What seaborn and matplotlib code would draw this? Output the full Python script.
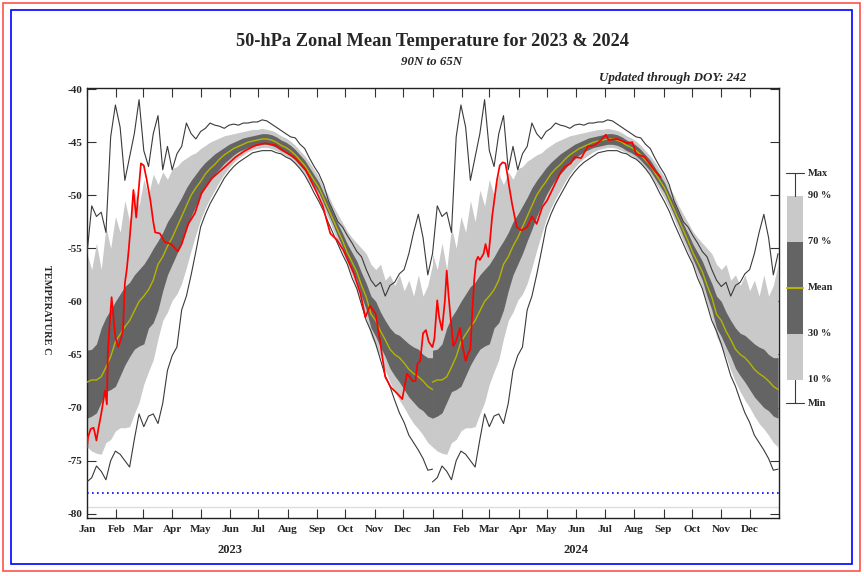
import seaborn as sns
import pandas as pd
import matplotlib.pyplot as plt
import numpy as np
from matplotlib.patches import Rectangle
from matplotlib.lines import Line2D

# climatology, sampled every 5 days of the year
doy = [1, 6, 11, 16, 21, 26, 31, 36, 41, 46, 51, 56, 61, 66, 71, 76, 81, 86, 91, 96,
       101, 106, 111, 116, 121, 126, 131, 136, 141, 146, 151, 156, 161, 166, 171, 176,
       181, 186, 191, 196, 201, 206, 211, 216, 221, 226, 231, 236, 241, 246, 251, 256,
       261, 266, 271, 276, 281, 286, 291, 296, 301, 306, 311, 316, 321, 326, 331, 336,
       341, 346, 351, 356, 361, 366]

clim_max = [-55.5, -51.0, -52.0, -51.6, -53.5, -44.5, -41.5, -43.6, -48.6, -46.4,
            -44.2, -41.0, -45.8, -47.3, -44.2, -42.5, -47.6, -45.4, -47.6, -46.1,
            -45.4, -43.2, -44.2, -44.7, -44.0, -43.7, -43.2, -43.4, -43.5, -43.7,
            -43.4, -43.3, -43.4, -43.2, -43.2, -43.1, -43.1, -42.9, -43.0, -43.3,
            -43.6, -43.9, -44.2, -44.5, -44.6, -45.2, -45.6, -46.5, -47.3, -48.0,
            -49.0, -50.5, -51.5, -52.5, -53.0, -53.8, -54.5, -55.3, -55.8, -57.0,
            -58.0, -58.6, -58.2, -59.5, -58.5, -58.2, -57.4, -57.0, -55.5, -53.5,
            -51.8, -54.0, -57.5, -55.5]
clim_p90 = [-55.5, -57.0, -54.5, -57.0, -53.0, -55.0, -52.0, -53.5, -50.5, -52.5,
            -49.5, -51.0, -48.5, -50.0, -48.0, -49.0, -47.8, -48.5, -47.5, -47.3,
            -46.8, -46.5, -46.2, -46.0, -45.6, -45.3, -45.0, -44.8, -44.6, -44.4,
            -44.3, -44.2, -44.1, -44.0, -43.9, -43.8, -43.8, -43.7, -43.8, -43.9,
            -44.1, -44.4, -44.6, -44.9, -45.3, -45.8, -46.3, -46.9, -47.6, -48.3,
            -49.2, -50.0, -51.0, -51.8, -52.6, -53.4, -54.0, -54.5, -55.0, -55.5,
            -56.5, -57.0, -56.5, -58.0, -57.5, -58.5, -57.5, -59.0, -58.0, -59.5,
            -57.5, -59.5, -58.5, -56.5]
clim_p70 = [-64.6, -64.5, -64.0, -62.5, -61.5, -60.8, -60.0, -59.3, -58.6, -58.2,
            -57.5, -57.0, -56.5, -55.8, -55.0, -54.3, -53.5, -52.5, -51.8, -51.0,
            -50.2, -49.3, -48.6, -48.0, -47.4, -46.9, -46.5, -46.1, -45.8, -45.5,
            -45.2, -45.0, -44.8, -44.6, -44.5, -44.4, -44.3, -44.2, -44.2, -44.3,
            -44.5, -44.8, -45.0, -45.3, -45.7, -46.2, -46.7, -47.4, -48.1, -48.8,
            -49.8, -50.7, -51.7, -52.7, -53.6, -54.6, -55.4, -56.2, -57.3, -58.3,
            -59.5, -60.0, -61.0, -61.8, -62.5, -63.0, -63.2, -63.6, -64.0, -64.3,
            -64.5, -65.0, -65.3, -65.3]
clim_mean = [-67.6, -67.4, -67.4, -67.1, -66.2, -65.2, -63.8, -63.1, -62.4, -61.8,
             -60.9, -60.0, -59.5, -58.9, -58.0, -56.5, -55.8, -54.8, -54.0, -53.0,
             -52.0, -51.0, -50.0, -49.3, -48.7, -48.0, -47.5, -47.1, -46.6, -46.2,
             -45.9, -45.6, -45.4, -45.2, -45.0, -44.9, -44.8, -44.7, -44.7, -44.8,
             -45.0, -45.3, -45.5, -45.8, -46.2, -46.7, -47.2, -47.9, -48.6, -49.3,
             -50.3, -51.3, -52.3, -53.3, -54.3, -55.4, -56.3, -57.2, -58.5, -59.6,
             -61.2, -61.8, -62.8, -63.6, -64.5, -65.0, -65.3, -65.8, -66.4, -66.8,
             -67.1, -67.5, -68.0, -68.3]
clim_p30 = [-71.0, -70.8, -70.5, -69.5, -68.5, -68.3, -68.0, -67.0, -66.0, -65.2,
            -64.5, -64.2, -64.0, -62.5, -62.0, -60.8, -59.0, -57.5, -56.5, -55.5,
            -54.3, -53.2, -52.0, -51.0, -50.0, -49.2, -48.5, -48.0, -47.5, -47.0,
            -46.6, -46.2, -45.9, -45.7, -45.5, -45.4, -45.3, -45.2, -45.2, -45.3,
            -45.5, -45.8, -46.0, -46.3, -46.7, -47.2, -47.7, -48.4, -49.1, -49.8,
            -50.8, -51.8, -52.8, -53.9, -54.9, -56.0, -57.0, -58.0, -59.5, -60.8,
            -62.5, -63.3, -64.3, -65.2, -66.3, -67.0, -67.6, -68.3, -69.0, -69.5,
            -70.0, -70.3, -70.8, -71.0]
clim_p10 = [-73.7, -74.1, -74.3, -74.4, -73.3, -73.0, -72.2, -71.9, -71.9, -71.8,
            -70.6, -69.5, -67.8, -66.6, -65.5, -63.5, -61.8, -61.0, -59.9, -59.3,
            -58.3, -56.8, -55.2, -53.7, -52.3, -51.2, -50.3, -49.5, -48.7, -48.0,
            -47.4, -46.9, -46.5, -46.2, -45.9, -45.7, -45.6, -45.5, -45.5, -45.6,
            -45.8, -46.0, -46.3, -46.6, -47.0, -47.5, -48.0, -48.8, -49.5, -50.3,
            -51.2, -52.2, -53.3, -54.4, -55.4, -56.5, -57.6, -58.8, -60.2, -61.6,
            -63.3, -64.3, -65.2, -66.5, -67.6, -68.5, -69.3, -70.0, -70.8, -71.5,
            -72.0, -72.6, -73.3, -73.7]
clim_min = [-77.0, -76.6, -75.5, -76.0, -76.8, -75.0, -74.1, -74.4, -75.0, -75.6,
            -73.0, -70.6, -71.8, -70.8, -70.6, -71.5, -69.6, -66.5, -65.1, -64.3,
            -60.8, -59.5, -57.5, -55.3, -53.0, -51.8, -50.8, -50.0, -49.2, -48.4,
            -47.8, -47.3, -46.9, -46.6, -46.3, -46.0, -45.9, -45.8, -45.8, -45.8,
            -46.0, -46.1, -46.4, -46.6, -47.0, -47.5, -48.1, -48.9, -49.8, -50.6,
            -51.5, -52.6, -53.6, -54.6, -55.6, -56.5, -57.8, -58.8, -60.3, -61.8,
            -62.8, -64.0, -65.5, -67.0, -68.0, -69.3, -70.5, -71.4, -72.6, -73.3,
            -74.0, -74.8, -75.9, -75.8]

# observed daily temperature
red_doy_2023 = [1, 2, 5, 8, 11, 13, 16, 20, 22, 23, 25, 27, 29, 31, 34, 37, 39, 41, 43,
                45, 48, 50, 53, 58, 61, 64, 68, 71, 73, 78, 83, 90, 97, 101, 108, 115,
                122, 133, 147, 158, 168, 179, 189, 200, 210, 221, 232, 244, 250, 258,
                265, 272, 283, 290, 295, 300, 306, 311, 316, 322, 329, 334, 339, 345,
                348, 350, 353, 356, 359, 362, 365]
red_val_2023 = [-73.8, -72.8, -72.0, -71.9, -73.1, -72.0, -70.6, -68.4, -69.7, -64.9,
                -62.0, -59.6, -61.5, -63.4, -64.3, -63.5, -62.7, -58.3, -57.0, -55.2,
                -52.0, -49.5, -52.1, -47.0, -47.2, -48.5, -50.5, -52.5, -53.5, -53.6,
                -54.4, -54.6, -55.3, -54.6, -52.7, -51.7, -49.8, -48.4, -47.3, -46.4,
                -45.8, -45.3, -45.1, -45.3, -45.9, -46.5, -47.6, -49.8, -51.0, -53.6,
                -54.2, -55.2, -57.4, -59.3, -61.5, -60.4, -61.2, -64.0, -67.1, -68.1,
                -68.7, -69.2, -66.8, -67.5, -67.5, -65.9, -65.6, -63.0, -62.7, -63.8,
                -64.2]
red_doy_2024 = [1, 3, 6, 8, 11, 14, 16, 18, 20, 23, 26, 30, 33, 36, 39, 41, 43, 45, 47,
                49, 51, 55, 57, 60, 62, 64, 67, 69, 72, 75, 78, 80, 82, 85, 87, 90, 95,
                101, 106, 111, 117, 122, 129, 136, 141, 147, 151, 158, 165, 172, 179,
                184, 187, 196, 207, 212, 216, 225, 230, 235, 242]
red_val_2024 = [-64.3, -63.5, -59.9, -61.5, -62.7, -60.0, -57.1, -59.5, -61.5, -64.2,
                -63.7, -62.5, -64.3, -65.6, -64.8, -64.5, -61.0, -58.0, -56.2, -55.8,
                -56.1, -55.5, -54.6, -55.8, -54.0, -52.0, -50.0, -48.6, -47.2, -46.9,
                -47.0, -48.0, -49.2, -50.8, -51.7, -53.0, -53.3, -53.0, -52.0, -52.7,
                -51.1, -50.5, -49.2, -47.9, -47.3, -47.0, -46.4, -46.5, -45.4, -45.3,
                -44.8, -44.3, -44.8, -44.7, -45.1, -45.0, -46.1, -46.4, -47.0, -47.6,
                -48.3]

years = [2023, 2024]
year_offset = [0, 365]
month_names = ['Jan', 'Feb', 'Mar', 'Apr', 'May', 'Jun',
               'Jul', 'Aug', 'Sep', 'Oct', 'Nov', 'Dec']
nat_level = -78.0
floor_level = -79.4
last_doy = 242

frames = []
for yr, off in zip(years, year_offset):
    frames.append(pd.DataFrame({'year': yr, 'day': np.array(doy) - 1 + off,
                                'max': clim_max, 'p90': clim_p90, 'p70': clim_p70,
                                'mean': clim_mean, 'p30': clim_p30, 'p10': clim_p10,
                                'min': clim_min}))
clim = pd.concat(frames, ignore_index=True)

obs = pd.DataFrame({'day': list(np.array(red_doy_2023) - 1) +
                           list(np.array(red_doy_2024) - 1 + 365),
                    'temp': red_val_2023 + red_val_2024})

LIGHT = '#c9c9c9'
DARK = '#646464'
MEANC = '#b5b500'
ENV = '#3a3a3a'
serif = ['Liberation Serif', 'DejaVu Serif']

sns.set_style('ticks')
plt.rcParams['font.family'] = serif
plt.rcParams['font.weight'] = 'bold'

fig = plt.figure(figsize=(8.64, 5.76), dpi=100)
ax = fig.add_axes([87 / 864, 1 - 518 / 576, 692 / 864, 430 / 576])

for yr in years:
    sub = clim[clim.year == yr]
    ax.fill_between(sub['day'], sub['p10'], sub['p90'], color=LIGHT, lw=0, zorder=1)
    ax.fill_between(sub['day'], sub['p30'], sub['p70'], color=DARK, lw=0, zorder=2)

sns.lineplot(data=clim, x='day', y='mean', units='year', estimator=None,
             color=MEANC, lw=1.0, ax=ax, zorder=3)
sns.lineplot(data=clim, x='day', y='max', units='year', estimator=None,
             color=ENV, lw=0.8, ax=ax, zorder=3)
sns.lineplot(data=clim, x='day', y='min', units='year', estimator=None,
             color=ENV, lw=0.8, ax=ax, zorder=3)
sns.lineplot(data=obs, x='day', y='temp', estimator=None, sort=False,
             color='red', lw=1.25, ax=ax, zorder=4)

ax.axhline(nat_level, color='blue', lw=1.2, ls=(0, (1, 2)), zorder=2)
ax.axhline(floor_level, color='#dddddd', lw=1.0, zorder=1)

month_starts = pd.date_range('2023-01-01', '2024-12-01', freq='MS')
month_days = (month_starts - pd.Timestamp('2023-01-01')).days
ax.set_xticks(month_days)
ax.set_xticklabels(month_names * 2)
ax.set_xlim(0, 731)
ax.set_ylim(-80.4, -39.9)
ax.set_yticks(np.arange(-80, -39, 5))
ax.set_yticklabels([str(v) for v in range(-80, -39, 5)])
ax.tick_params(axis='both', direction='in', top=True, right=True, length=6.5,
               width=0.8, labelsize=8, color='#333333')
ax.tick_params(axis='x', pad=5)
ax.tick_params(axis='y', pad=3)
for lab in ax.get_xticklabels() + ax.get_yticklabels():
    lab.set_fontweight('bold')
for sp in ax.spines.values():
    sp.set_linewidth(1.0)
    sp.set_color('#222222')
ax.set_xlabel('')
ax.set_ylabel('')

# year labels under June of each year
jun_days = (pd.to_datetime(['2023-06-01', '2024-06-01']) - pd.Timestamp('2023-01-01')).days
for d, yr in zip(jun_days, years):
    ax.text(d, -0.075, str(yr), transform=ax.get_xaxis_transform(), ha='center',
            va='center', fontsize=9, fontweight='bold')

fig.text(433 / 864, 1 - 42 / 576, '50-hPa Zonal Mean Temperature for 2023 & 2024',
         ha='center', va='center', fontsize=13.2, fontweight='bold')
fig.text(432 / 864, 1 - 62 / 576, '90N to 65N', ha='center', va='center',
         fontsize=9.3, fontweight='bold', style='italic')
fig.text(746 / 864, 1 - 78 / 576, 'Updated through DOY: %d' % last_doy, ha='right',
         va='center', fontsize=9.4, fontweight='bold', style='italic')
fig.text(46 / 864, 1 - 310 / 576, 'TEMPERATURE C', ha='center', va='center',
         rotation=-90, fontsize=7.5, fontweight='bold')

# legend key on the right
lg = fig.add_axes([770 / 864, 1 - 420 / 576, 94 / 864, 260 / 576])
lg.set_xlim(770, 864)
lg.set_ylim(420, 160)
lg.axis('off')
lg.add_patch(Rectangle((787, 196), 16, 184, color=LIGHT, lw=0))
lg.add_patch(Rectangle((787, 242), 16, 92, color=DARK, lw=0))
lg.add_line(Line2D([787, 803], [288, 288], color=MEANC, lw=1.5))
lg.add_line(Line2D([795, 795], [173, 196], color=ENV, lw=0.8))
lg.add_line(Line2D([786, 804], [173, 173], color=ENV, lw=0.8))
lg.add_line(Line2D([795, 795], [380, 403], color=ENV, lw=0.8))
lg.add_line(Line2D([786, 804], [403, 403], color=ENV, lw=0.8))
for yy, txt in zip([173, 196, 242, 288, 334, 380, 403],
                   ['Max', '90 %', '70 %', 'Mean', '30 %', '10 %', 'Min']):
    lg.text(808, yy, txt, ha='left', va='center', fontsize=7.5, fontweight='bold')

# double frame around the page
fig.patches.append(Rectangle((3 / 864, 1 - 571 / 576), 857 / 864, 568 / 576,
                             transform=fig.transFigure, fill=False, ec='#ff5050', lw=1.2))
fig.patches.append(Rectangle((11 / 864, 1 - 564 / 576), 841 / 864, 554 / 576,
                             transform=fig.transFigure, fill=False, ec='blue', lw=1.2))

fig.savefig('out.png', dpi=100)
